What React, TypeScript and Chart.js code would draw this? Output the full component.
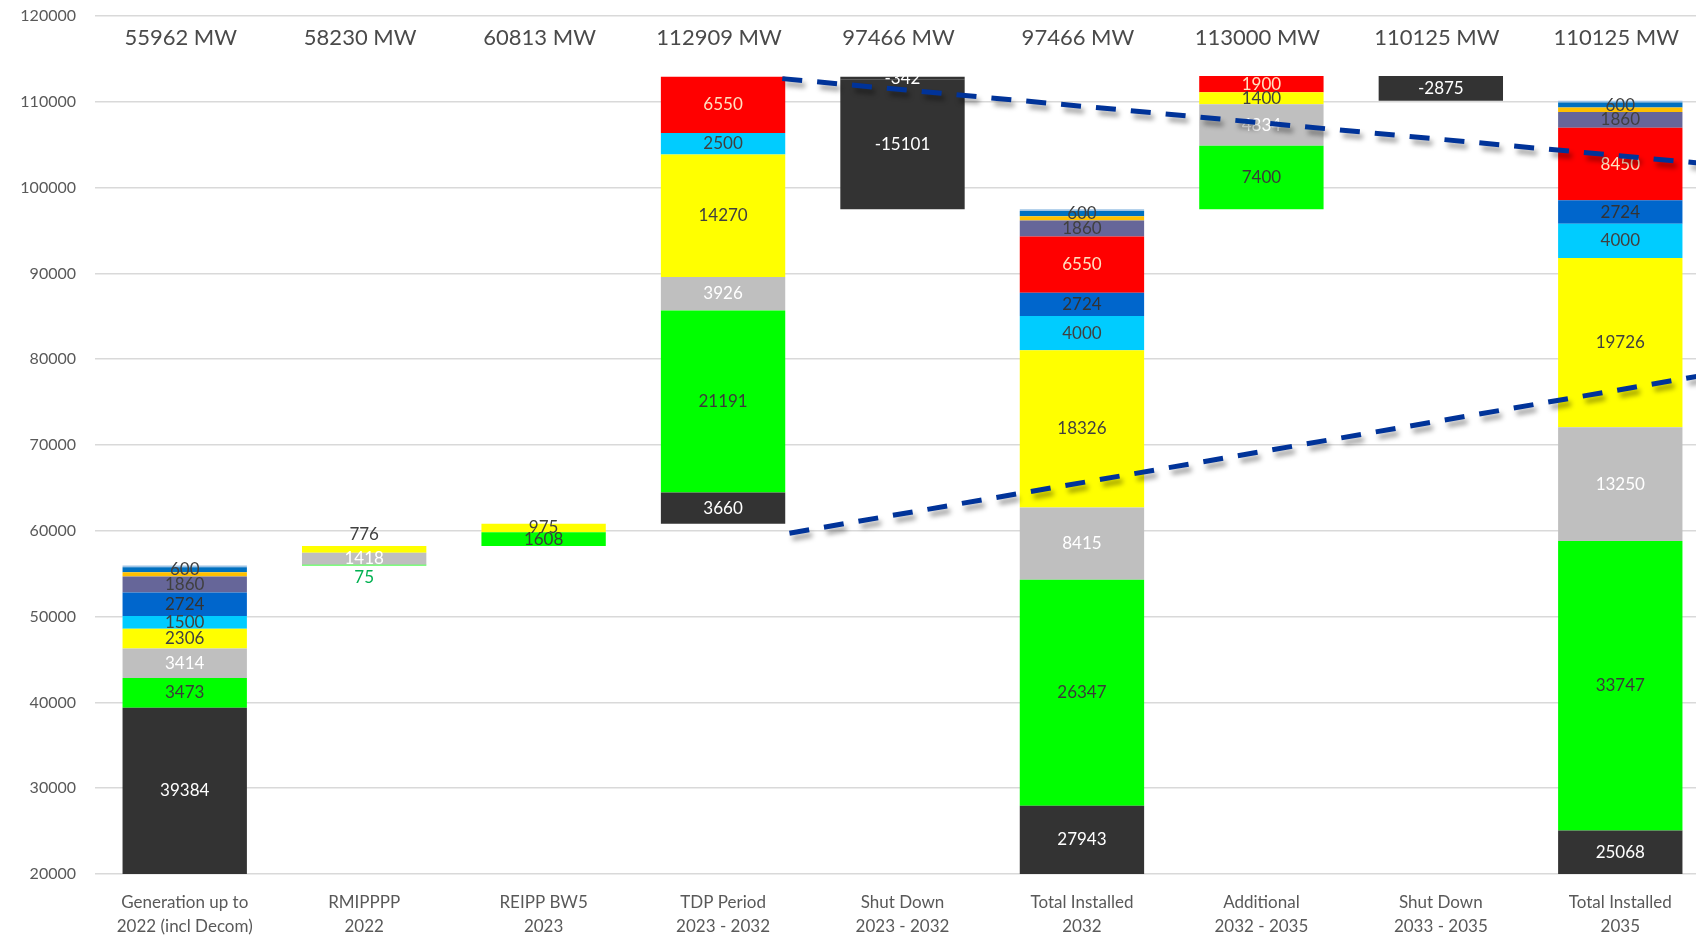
import React, { useEffect, useRef } from "react";
import { Chart, registerables } from "chart.js";

Chart.register(...registerables);

// Column categories (two-line axis labels)
const categories: string[][] = [
  ["Generation up to", "2022 (incl Decom)"],
  ["RMIPPPP", "2022"],
  ["REIPP BW5", "2023"],
  ["TDP Period", "2023 - 2032"],
  ["Shut Down", "2023 - 2032"],
  ["Total Installed", "2032"],
  ["Additional", "2032 - 2035"],
  ["Shut Down", "2033 - 2035"],
  ["Total Installed", "2035"],
];

// Installed capacity at the end of each step (MW)
const columnTotals = [55962, 58230, 60813, 112909, 97466, 97466, 113000, 110125, 110125];

// Level each column starts from (0 for full totals, previous total for steps)
const columnStart = [0, 55962, 58230, 60813, 112909, 0, 97466, 113000, 0];

// Capacity by technology per column (MW), stacked bottom to top
const decomSmall = [null, null, null, null, -342, null, null, null, null];
const decomLarge = [null, null, null, null, -15101, null, null, -2875, null];
const coal = [39384, null, null, 3660, null, 27943, null, null, 25068];
const wind = [3473, 75, 1608, 21191, null, 26347, 7400, null, 33747];
const gasOther = [3414, 1418, null, 3926, null, 8415, 4834, null, 13250];
const solarPv = [2306, 776, 975, 14270, null, 18326, 1400, null, 19726];
const storage = [1500, null, null, 2500, null, 4000, null, null, 4000];
const hydro = [2724, null, null, null, null, 2724, null, null, 2724];
const gasDiesel = [null, null, null, 6550, null, 6550, 1900, null, 8450];
const nuclear = [1860, null, null, null, null, 1860, null, null, 1860];
const embedded = [500, null, null, null, null, 500, null, null, 500];
const csp = [600, null, null, null, null, 600, null, null, 600];
const other = [201, null, null, null, null, 201, null, null, 200];

// Trend guides, as [category position, MW] pairs
const upperTrend: [number, number][] = [[3.33, 112700], [8.5, 102740]];
const lowerTrend: [number, number][] = [[3.37, 59720], [8.5, 78260]];

// Y axis
const yMin = 20000;
const yMax = 120000;
const yStep = 10000;

type Series = {
  key: string;
  values: (number | null)[];
  color: string;
  labelColor: string | null;
};

const series: Series[] = [
  { key: "decomSmall", values: decomSmall, color: "#333333", labelColor: "#FFFFFF" },
  { key: "decomLarge", values: decomLarge, color: "#333333", labelColor: "#FFFFFF" },
  { key: "coal", values: coal, color: "#333333", labelColor: "#FFFFFF" },
  { key: "wind", values: wind, color: "#00FF00", labelColor: "#3A3A3A" },
  { key: "gasOther", values: gasOther, color: "#BFBFBF", labelColor: "#FFFFFF" },
  { key: "solarPv", values: solarPv, color: "#FFFF00", labelColor: "#404040" },
  { key: "storage", values: storage, color: "#00CCFF", labelColor: "#404040" },
  { key: "hydro", values: hydro, color: "#0066CC", labelColor: "#333333" },
  { key: "gasDiesel", values: gasDiesel, color: "#FF0000", labelColor: "#FFE2C2" },
  { key: "nuclear", values: nuclear, color: "#666699", labelColor: "#404040" },
  { key: "embedded", values: embedded, color: "#FFC000", labelColor: null },
  { key: "csp", values: csp, color: "#0070C0", labelColor: "#404040" },
  { key: "other", values: other, color: "#9DC3E6", labelColor: null },
];

// Labels that sit outside their (very thin) segment
const outsideLabels: Record<string, { side: "above" | "below"; color: string }> = {
  "solarPv:1": { side: "above", color: "#404040" },
  "wind:1": { side: "below", color: "#00B050" },
};

const FONT = "Lato, 'Open Sans', sans-serif";

// Floating ranges built by walking each column from its start level
function buildRanges(): ([number, number] | null)[][] {
  const level = columnStart.slice();
  return series.map((s) =>
    s.values.map((v, j) => {
      if (v === null) return null;
      const lo = level[j];
      const hi = lo + v;
      level[j] = hi;
      return [Math.min(lo, hi), Math.max(lo, hi)] as [number, number];
    })
  );
}

const segmentLabels = {
  id: "segmentLabels",
  afterDatasetsDraw(chart: any) {
    const ctx: CanvasRenderingContext2D = chart.ctx;
    const area = chart.chartArea;
    ctx.save();
    ctx.font = `17px ${FONT}`;
    ctx.textAlign = "center";
    ctx.textBaseline = "middle";
    series.forEach((s, i) => {
      if (!s.labelColor) return;
      const meta = chart.getDatasetMeta(i);
      s.values.forEach((v, j) => {
        if (v === null) return;
        const el: any = meta.data[j];
        if (!el) return;
        // centre on the visible part of the segment
        const top = Math.max(Math.min(el.y, el.base), area.top);
        const bottom = Math.min(Math.max(el.y, el.base), area.bottom);
        const special = outsideLabels[`${s.key}:${j}`];
        let y = (top + bottom) / 2;
        let color = s.labelColor as string;
        if (special) {
          y = special.side === "above" ? top - 11 : bottom + 12;
          color = special.color;
        }
        ctx.fillStyle = color;
        ctx.fillText(String(v), el.x, y);
      });
    });
    ctx.restore();
  },
};

const headerTotals = {
  id: "headerTotals",
  afterDraw(chart: any) {
    const ctx: CanvasRenderingContext2D = chart.ctx;
    const xs = chart.scales.x;
    const top = chart.chartArea.top;
    ctx.save();
    ctx.font = `22px ${FONT}`;
    ctx.fillStyle = "#4A4A4A";
    ctx.textAlign = "center";
    ctx.textBaseline = "middle";
    columnTotals.forEach((t, j) => {
      ctx.fillText(`${t} MW`, xs.getPixelForValue(j) - 4, top + 22);
    });
    ctx.restore();
  },
};

const trendLines = {
  id: "trendLines",
  afterDraw(chart: any) {
    const ctx: CanvasRenderingContext2D = chart.ctx;
    const xs = chart.scales.x;
    const ys = chart.scales.y;
    ctx.save();
    ctx.strokeStyle = "#003399";
    ctx.lineWidth = 5;
    ctx.setLineDash([20, 15]);
    ctx.shadowColor = "rgba(0,0,0,0.38)";
    ctx.shadowBlur = 5;
    ctx.shadowOffsetX = 3;
    ctx.shadowOffsetY = 5;
    [upperTrend, lowerTrend].forEach((line) => {
      ctx.beginPath();
      line.forEach(([cx, v], k) => {
        const px = xs.getPixelForValue(cx);
        const py = ys.getPixelForValue(v);
        if (k === 0) ctx.moveTo(px, py);
        else ctx.lineTo(px, py);
      });
      ctx.stroke();
    });
    ctx.restore();
  },
};

export default function App() {
  const canvasRef = useRef<HTMLCanvasElement | null>(null);

  useEffect(() => {
    if (!canvasRef.current) return;
    const ranges = buildRanges();
    const chart = new Chart(canvasRef.current, {
      type: "bar",
      data: {
        labels: categories as any,
        datasets: series.map((s, i) => ({
          label: s.key,
          data: ranges[i] as any,
          backgroundColor: s.color,
          borderWidth: 0,
          categoryPercentage: 0.693,
          barPercentage: 1,
        })),
      },
      options: {
        responsive: false,
        animation: false,
        devicePixelRatio: 1,
        layout: { padding: { top: 16, left: 0, right: 0, bottom: 0 } },
        plugins: {
          legend: { display: false },
          tooltip: { enabled: false },
        },
        scales: {
          x: {
            stacked: true,
            grid: { display: false },
            border: { display: false },
            ticks: {
              color: "#595959",
              font: { family: FONT, size: 17, lineHeight: 1.45 },
              padding: 8,
              maxRotation: 0,
              autoSkip: false,
            },
            afterFit: (scale: any) => {
              scale.height = 63;
            },
          },
          y: {
            stacked: false,
            min: yMin,
            max: yMax,
            grid: { color: "#D9D9D9", lineWidth: 1.5, drawTicks: false },
            border: { display: false },
            ticks: {
              stepSize: yStep,
              color: "#595959",
              font: { family: FONT, size: 16 },
              padding: 19,
              callback: (value: any) => String(value),
            },
            afterFit: (scale: any) => {
              scale.width = 95;
              scale.paddingTop = 0;
              scale.paddingBottom = 0;
            },
          },
        },
      },
      plugins: [segmentLabels, trendLines, headerTotals],
    });
    return () => chart.destroy();
  }, []);

  return (
    <div
      style={{
        position: "fixed",
        left: 0,
        top: 0,
        width: 1696,
        height: 937,
        overflow: "hidden",
        background: "#FFFFFF",
      }}
    >
      <canvas ref={canvasRef} width={1710} height={937} style={{ display: "block" }} />
    </div>
  );
}
